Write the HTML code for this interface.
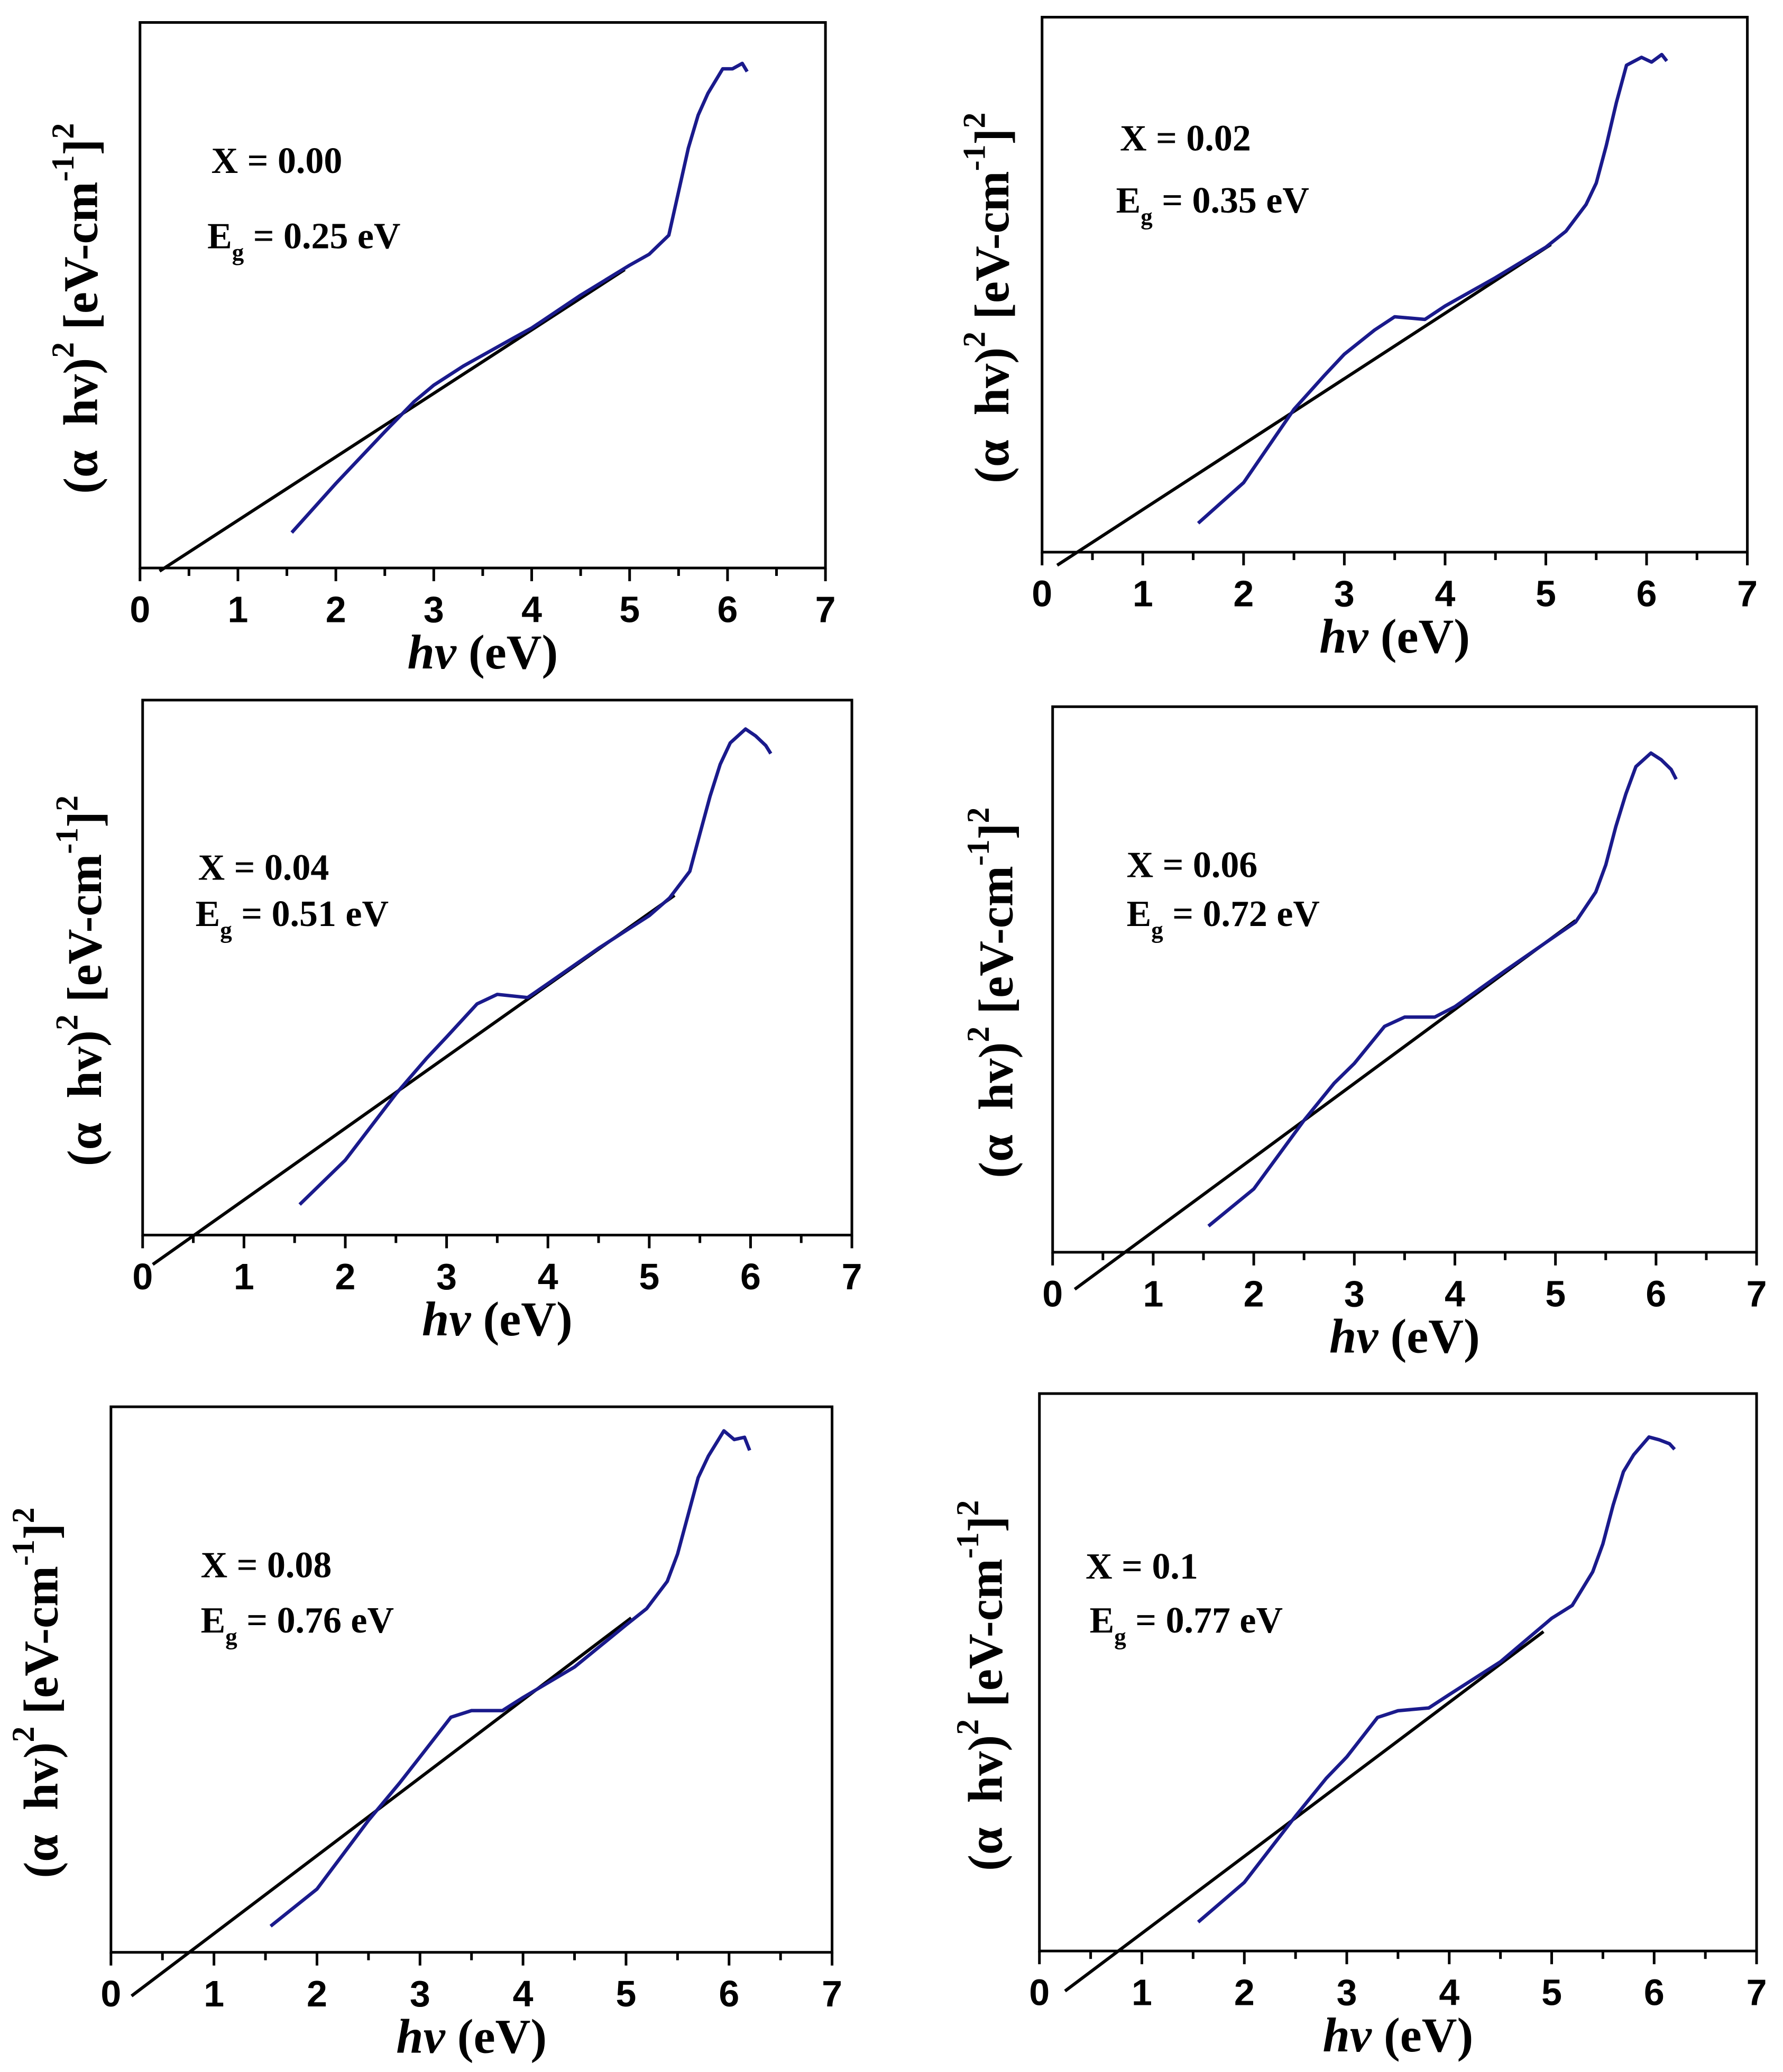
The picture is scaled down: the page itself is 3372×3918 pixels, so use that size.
<!DOCTYPE html>
<html><head><meta charset="utf-8"><style>
html,body{margin:0;padding:0;background:#fff;}
svg{display:block;}
.tick{font-family:"Liberation Sans",sans-serif;font-weight:bold;font-size:28px;fill:#000;}
.tt{font-family:"Liberation Serif",serif;font-weight:bold;fill:#000;}
</style></head><body>
<svg id="fig" width="3372" height="3918" viewBox="0 0 1350 1568.6" preserveAspectRatio="none" xmlns="http://www.w3.org/2000/svg"></svg>
<script>
const xTicks=[0,1,2,3,4,5,6,7];
const xs=[1.55,2.0,2.5,2.8,3.0,3.3,3.5,3.8,4.0,4.5,5.0,5.2,5.4,5.5,5.6,5.7,5.8,5.95,6.05,6.15,6.2];
const labelsX=["X = 0.00","X = 0.02","X = 0.04","X = 0.06","X = 0.08","X = 0.1"];
const egVals=[0.25,0.35,0.51,0.72,0.76,0.77];
const egLabels=["0.25","0.35","0.51","0.72","0.76","0.77"];
const fitEnd=[[4.95,0.547],[5.05,0.575],[5.25,0.635],[5.2,0.608],[5.05,0.613],[4.92,0.573]];
const fitStart=[0.2,0.15,0.1,0.22,0.2,0.25];
const y0=[0.065,0.155,0.25,0.305,0.335,0.37,0.39,0.42,0.44,0.50,0.555,0.575,0.61,0.69,0.77,0.83,0.87,0.915,0.915,0.925,0.91];
const y1=[0.054,0.13,0.267,0.33,0.37,0.415,0.44,0.435,0.46,0.513,0.57,0.60,0.65,0.69,0.76,0.84,0.91,0.925,0.916,0.93,0.918];
const y2=[0.057,0.14,0.264,0.33,0.37,0.432,0.45,0.444,0.47,0.536,0.597,0.63,0.68,0.75,0.82,0.88,0.92,0.946,0.933,0.915,0.90];
const y3=[0.048,0.116,0.242,0.31,0.346,0.414,0.431,0.431,0.45,0.516,0.58,0.605,0.66,0.71,0.78,0.84,0.89,0.915,0.903,0.885,0.867];
const y4=[0.048,0.116,0.242,0.31,0.358,0.431,0.443,0.443,0.467,0.523,0.60,0.63,0.68,0.73,0.80,0.87,0.91,0.956,0.94,0.944,0.92];
const y5=[0.052,0.123,0.242,0.31,0.348,0.419,0.431,0.436,0.46,0.519,0.597,0.62,0.68,0.73,0.80,0.86,0.89,0.922,0.917,0.91,0.90];
const series=[y0,y1,y2,y3,y4,y5];
const panels=[
 {l:106,r:625,t:17,b:430,yl:65},
 {l:789,r:1323,t:13,b:418,yl:755},
 {l:108,r:645,t:530,b:935,yl:68},
 {l:797,r:1330,t:535,b:948,yl:758},
 {l:84,r:630,t:1065,b:1478,yl:35},
 {l:787,r:1330,t:1055,b:1477,yl:750}];
const ann=[[160,131,157,188],[848,114,845,161],[150,666,148,701],[853,664,853,701],[152,1194,152,1236],[822,1195,825,1236]];
const NS="http://www.w3.org/2000/svg";
const svg=document.getElementById('fig');
function mk(tag,attrs,parent){const e=document.createElementNS(NS,tag);for(const k in attrs)e.setAttribute(k,attrs[k]);(parent||svg).appendChild(e);return e;}
panels.forEach((p,i)=>{
 const g=mk('g',{});
 
 
 const sx=v=>p.l+(p.r-p.l)*v/7;
 const sy=f=>p.b-(p.b-p.t)*f;
 const fr=mk('rect',{x:p.l,y:p.t,width:p.r-p.l,height:p.b-p.t,fill:'none',stroke:'#000','stroke-width':2},g);
 
 
 for(let k=0;k<=14;k++){const v=k/2;const tk=mk('line',{x1:sx(v),x2:sx(v),y1:p.b,y2:p.b+(k%2?6:10),stroke:'#000','stroke-width':2},g);
  
  }
 xTicks.forEach(v=>{const t=mk('text',{x:sx(v),y:p.b+41,'text-anchor':'middle',class:'tick'},g);t.textContent=v;
  
  });
 const xt=mk('text',{x:(p.l+p.r)/2,y:p.b+76,'text-anchor':'middle',class:'tt','font-size':37},g);
 
 
 xt.innerHTML='<tspan font-style="italic">hv</tspan> (eV)';
 const cy=(p.t+p.b)/2+10;
 const yt=mk('text',{x:p.yl,y:cy,'text-anchor':'middle',class:'tt','font-size':37,transform:'rotate(-90 '+(p.yl)+' '+cy+')','dominant-baseline':'middle'},g);
 
 
 yt.innerHTML='(α&#160;&#160;hv)<tspan dy="-15" font-size="24">2</tspan><tspan dy="15"> [eV-cm</tspan><tspan dy="-15" font-size="24">-1</tspan><tspan dy="15">]</tspan><tspan dy="-15" font-size="24">2</tspan>';
 const eg=egVals[i],e=fitEnd[i];
 const slope=e[1]/(e[0]-eg);
 const xs0=fitStart[i];
 const fl=mk('line',{x1:sx(xs0),y1:sy(slope*(xs0-eg)),x2:sx(e[0]),y2:sy(e[1]),stroke:'#000','stroke-width':2.4},g);
 
 
 const d=xs.map((x,j)=>(j?'L':'M')+sx(x).toFixed(1)+','+sy(series[i][j]).toFixed(1)).join(' ');
 const c=mk('path',{d:d,fill:'none',stroke:'#1a1a8c','stroke-width':2.6,'stroke-linejoin':'round'},g);
 
 
 const a=ann[i];
 const t1=mk('text',{x:a[0],y:a[1],class:'tt','font-size':28},g);t1.textContent=labelsX[i];
 
 
 const t2=mk('text',{x:a[2],y:a[3],class:'tt','font-size':28},g);
 t2.innerHTML='E<tspan dy="9" font-size="18">g</tspan><tspan dy="-9"> = '+egLabels[i]+' eV</tspan>';
 
 
});
</script>
</body></html>
